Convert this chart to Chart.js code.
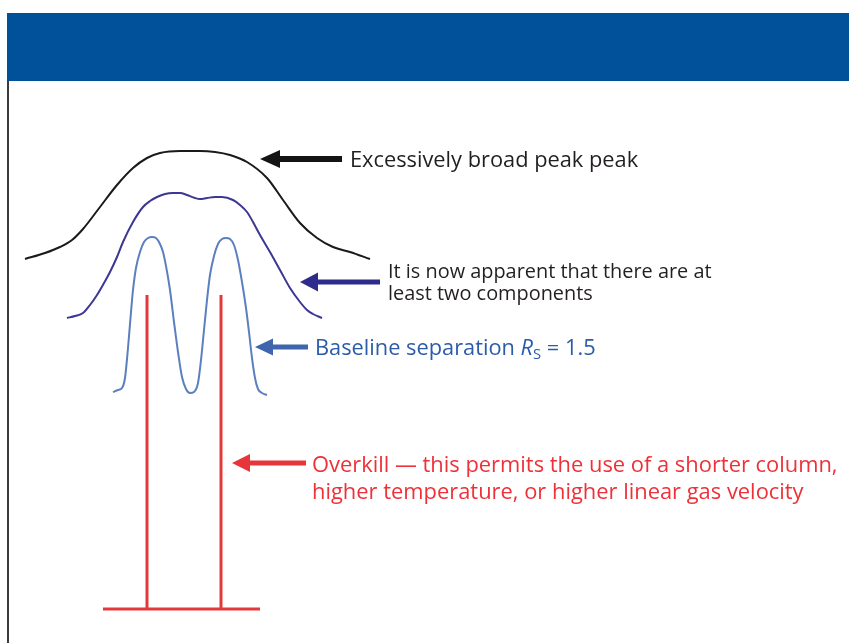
<!DOCTYPE html>
<html><head><meta charset="utf-8">
<script src="https://cdn.jsdelivr.net/npm/chart.js@4/dist/chart.umd.min.js"></script>
<style>
html,body{margin:0;padding:0;background:#fff;}
#wrap{position:relative;width:849px;height:643px;overflow:hidden;background:#fff;}
#band{position:absolute;left:7px;top:13px;width:842px;height:68px;background:#005199;}
#rule{position:absolute;left:7px;top:81px;width:2px;height:562px;background:#3a3a3a;}
canvas{position:absolute;left:0;top:0;}
.lbl{position:absolute;font-family:"Open Sans",sans-serif;white-space:nowrap;}
.sub{font-size:0.68em;position:relative;top:0.28em;font-style:normal;}
</style></head><body>
<div id="wrap">
<div id="band"></div><div id="rule"></div>
<canvas id="c" width="849" height="643"></canvas>
<div class="lbl" id="l0" style="font-size:21.8px;line-height:26px;color:#231f20;">Excessively broad peak peak</div>
<div class="lbl" id="l1" style="font-size:19.9px;line-height:22px;color:#231f20;">It is now apparent that there are at<br>least two components</div>
<div class="lbl" id="l2" style="font-size:21.8px;line-height:26px;color:#2b5ca9;">Baseline separation <i>R</i><span class="sub">S</span> = 1.5</div>
<div class="lbl" id="l3" style="font-size:21.9px;line-height:27px;color:#ee3138;">Overkill — this permits the use of a shorter column,<br>higher temperature, or higher linear gas velocity</div>
</div>
<script>
// Trace 1: unresolved, excessively broad peak
const broadTime   = [2.5, 4.5, 6.0, 7.2, 8.3, 10.0, 11.7, 13.3, 14.7, 16.0, 18.0, 20.0, 21.5, 23.0, 24.7, 26.7, 28.3, 30.0, 31.7, 33.3, 35.0, 37.0];
const broadSignal = [35.0, 35.6, 36.2, 36.9, 38.0, 40.2, 42.4, 44.1, 45.1, 45.6, 45.8, 45.8, 45.7, 45.4, 44.7, 43.1, 40.9, 38.6, 37.1, 36.2, 35.7, 35.0];

// Trace 2: two components barely apparent
const partialTime   = [6.7, 7.5, 8.3, 9.0, 9.7, 10.4, 11.0, 11.7, 12.3, 13.3, 14.3, 15.0, 15.7, 16.5, 17.3, 18.0, 18.7, 19.5, 20.0, 20.7, 21.5, 22.2, 23.3, 24.0, 24.7, 25.3, 26.0, 27.0, 28.0, 29.0, 30.0, 30.7, 31.3, 32.2];
const partialSignal = [29.1, 29.3, 29.6, 30.4, 31.4, 32.6, 33.7, 35.2, 36.7, 38.7, 40.2, 40.8, 41.2, 41.5, 41.6, 41.6, 41.4, 41.1, 41.0, 41.1, 41.2, 41.2, 40.9, 40.4, 39.7, 38.7, 37.4, 35.7, 33.9, 32.1, 30.7, 29.9, 29.5, 29.1];

// Trace 3: baseline separation, Rs = 1.5
const resolvedTime   = [11.3, 11.8, 12.2, 12.5, 12.8, 13.1, 13.3, 13.6, 14.0, 14.4, 14.8, 15.2, 15.6, 16.0, 16.3, 16.6, 17.0, 17.4, 17.8, 18.2, 18.6, 19.0, 19.4, 19.8, 20.1, 20.4, 20.7, 21.0, 21.4, 21.8, 22.2, 22.6, 23.0, 23.4, 23.8, 24.2, 24.6, 24.9, 25.2, 25.5, 25.8, 26.2, 26.7];
const resolvedSignal = [21.7, 21.9, 22.1, 23.1, 26.1, 29.7, 31.9, 34.1, 35.7, 36.7, 37.1, 37.2, 37.1, 36.5, 35.7, 34.3, 31.9, 28.7, 25.7, 23.2, 22.0, 21.6, 21.7, 22.6, 24.9, 27.9, 30.9, 33.4, 35.3, 36.5, 37.0, 37.1, 37.0, 36.4, 34.9, 32.7, 30.1, 27.7, 25.1, 23.1, 22.0, 21.6, 21.4];

// Trace 4: overkill, fully resolved sticks
const stickTime   = [10.3, 14.7, 14.7, 14.7, 22.1, 22.1, 22.1, 26.0];
const stickSignal = [0, 0, 31.4, 0, 0, 31.4, 0, 0];

const toPts = (xs, ys) => xs.map((x, i) => ({x, y: ys[i]}));

// Callout arrows (tip/tail in time units, level in signal units)
const callouts = [
  {label:'l0', tip:26.0, tail:34.2, level:45.0, textLevel:45.0, lh:26, color:'#141414', shaft:6, head:20, half:9, gap:8},
  {label:'l1', tip:30.0, tail:38.0, level:32.7, textLevel:33.8, lh:22, color:'#2e2b8c', shaft:5, head:18, half:9.5, gap:8},
  {label:'l2', tip:25.5, tail:30.8, level:26.2, textLevel:26.2, lh:26, color:'#3f65ae', shaft:5, head:18, half:8.5, gap:7},
  {label:'l3', tip:23.2, tail:30.6, level:14.6, textLevel:14.6, lh:27, color:'#e6353b', shaft:5, head:18, half:9, gap:6}
];

const calloutPlugin = {
  id: 'callouts',
  afterDatasetsDraw(chart) {
    const {ctx, scales: {x, y}} = chart;
    callouts.forEach(c => {
      const tx = x.getPixelForValue(c.tip);
      const ex = x.getPixelForValue(c.tail);
      const py = y.getPixelForValue(c.level);
      ctx.save();
      ctx.fillStyle = c.color;
      ctx.fillRect(tx + c.head - 1, py - c.shaft / 2, ex - (tx + c.head - 1), c.shaft);
      ctx.beginPath();
      ctx.moveTo(tx, py);
      ctx.lineTo(tx + c.head, py - c.half);
      ctx.lineTo(tx + c.head, py + c.half);
      ctx.closePath();
      ctx.fill();
      ctx.restore();
      const el = document.getElementById(c.label);
      el.style.left = (ex + c.gap) + 'px';
      el.style.top = (y.getPixelForValue(c.textLevel) - c.lh / 2) + 'px';
    });
  }
};

new Chart(document.getElementById('c'), {
  type: 'line',
  data: {
    datasets: [
      {data: toPts(broadTime, broadSignal), borderColor: '#1a1a1a', borderWidth: 2, cubicInterpolationMode: 'monotone'},
      {data: toPts(partialTime, partialSignal), borderColor: '#3b3794', borderWidth: 2, cubicInterpolationMode: 'monotone'},
      {data: toPts(resolvedTime, resolvedSignal), borderColor: '#5b7fbf', borderWidth: 2, cubicInterpolationMode: 'monotone'},
      {data: toPts(stickTime, stickSignal), borderColor: '#e23a3c', borderWidth: 3, tension: 0, borderJoinStyle: 'miter'}
    ]
  },
  options: {
    responsive: false,
    devicePixelRatio: 1,
    animation: false,
    layout: {padding: 0},
    elements: {point: {radius: 0}, line: {fill: false}},
    plugins: {legend: {display: false}, tooltip: {enabled: false}},
    scales: {
      x: {type: 'linear', min: 0, max: 84.9, display: false},
      y: {type: 'linear', min: -3.4, max: 60.9, display: false}
    }
  },
  plugins: [calloutPlugin]
});
</script>
</body></html>
